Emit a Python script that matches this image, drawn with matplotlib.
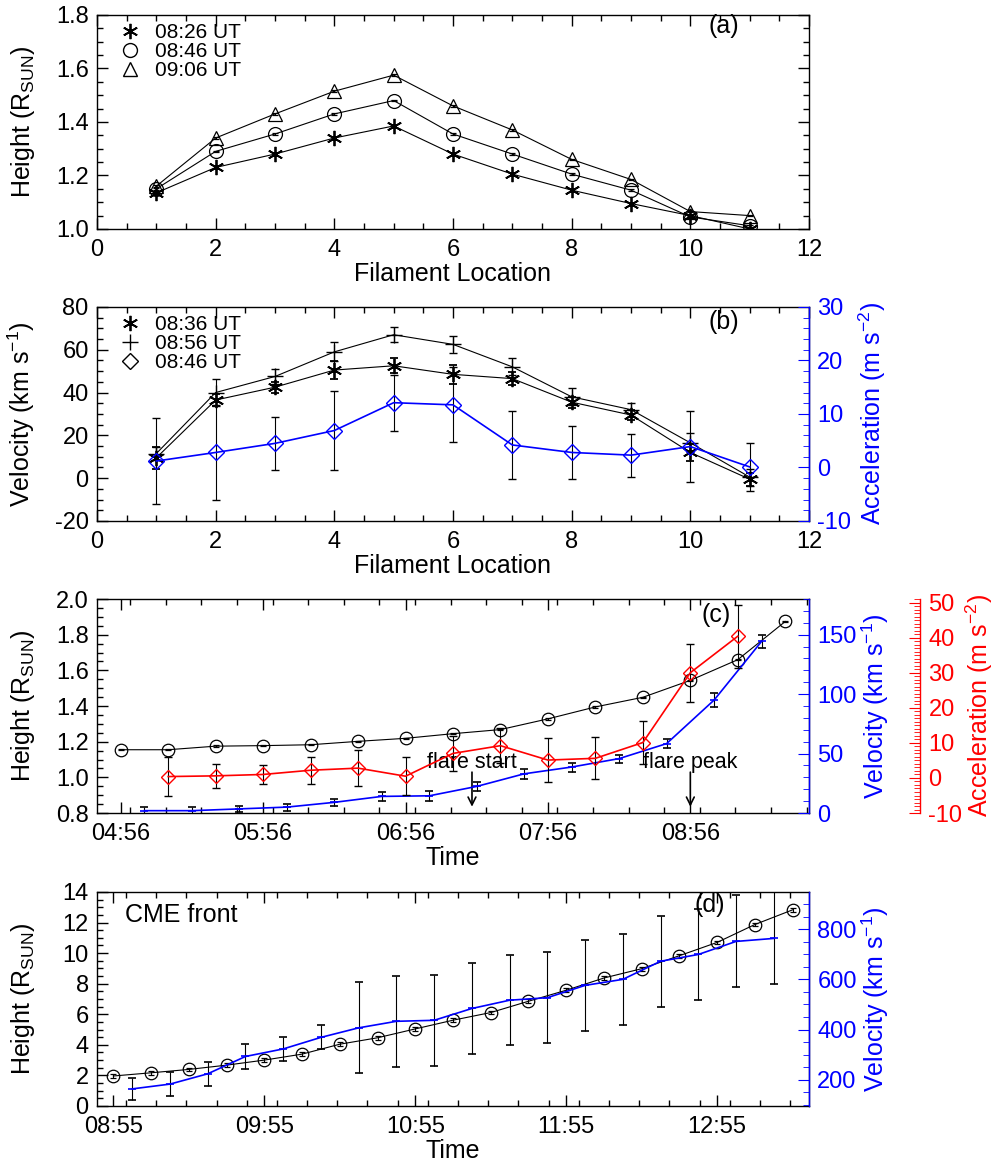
import numpy as np
import matplotlib
matplotlib.use('Agg')
import matplotlib.pyplot as plt
from matplotlib.lines import Line2D
from matplotlib.ticker import MultipleLocator, FuncFormatter

plt.rcParams['font.family'] = ['Liberation Sans', 'DejaVu Sans']
plt.rcParams['mathtext.fontset'] = 'custom'
plt.rcParams['mathtext.rm'] = 'Liberation Sans'
plt.rcParams['mathtext.it'] = 'Liberation Sans:italic'
plt.rcParams['axes.linewidth'] = 1.0
plt.rcParams['axes.unicode_minus'] = False

# ---- (a) filament heights vs location
loc = np.arange(1, 12)
h_0826 = [1.135, 1.23, 1.28, 1.34, 1.385, 1.28, 1.205, 1.145, 1.095, 1.05, 1.0]
h_0846 = [1.15, 1.29, 1.355, 1.43, 1.48, 1.355, 1.28, 1.205, 1.145, 1.045, 1.012]
h_0906 = [1.16, 1.34, 1.43, 1.515, 1.575, 1.46, 1.37, 1.26, 1.185, 1.065, 1.05]

# ---- (b) velocity / acceleration vs location
v_0836 = [9.5, 36.5, 42.5, 50.5, 52.5, 48.5, 46.5, 35.5, 29.5, 12, -0.5]
v_0836_err = [5, 3, 2.5, 4, 3.5, 4.5, 3, 2.5, 2.5, 4, 3]
v_0856 = [11.5, 40, 47.5, 59, 67, 62.5, 52, 38, 32, 16.5, 0.5]
v_0856_err = [3, 6.5, 3.5, 4.5, 3.5, 4, 4, 4, 3, 4.5, 4]
a_0846 = [1.2, 2.8, 4.5, 6.9, 12.1, 11.7, 4.2, 2.8, 2.3, 3.9, 0.1]
a_0846_err = [8, 8.8, 5, 7.4, 5.2, 7, 6.3, 5, 4, 6.6, 4.5]

# ---- (c) filament apex vs time
c_time = ['04:56', '05:16', '05:36', '05:56', '06:16', '06:36', '06:56', '07:16',
          '07:36', '07:56', '08:16', '08:36', '08:56', '09:16', '09:36']
c_height = [1.155, 1.155, 1.175, 1.178, 1.183, 1.202, 1.219, 1.245, 1.268,
            1.328, 1.395, 1.449, 1.544, 1.66, 1.874]
c_acc_time = c_time[1:14]
c_acc = [0.4, 0.6, 1.0, 2.2, 2.8, 0.5, 7.0, 9.2, 5.1, 5.6, 10.1, 30.0, 40.4]
c_acc_err = [5.5, 3.5, 2.8, 3.9, 5.2, 5.4, 5, 5, 6.3, 6, 6.2, 8.3, 9]
c_vel_time = ['05:06', '05:26', '05:46', '06:06', '06:26', '06:46', '07:06',
              '07:26', '07:46', '08:06', '08:26', '08:46', '09:06', '09:26']
c_vel = [2, 2, 3.5, 5, 9, 14, 14.5, 22.4, 33, 38.7, 45.8, 58.4, 95, 144.3]
c_vel_err = [3, 3, 2.5, 3, 3, 4, 4, 4, 4, 3.8, 3.4, 4, 5.6, 5.2]
flare_start = '07:24'
flare_peak = '08:56'

# ---- (d) CME front vs time
d_time = ['08:55', '09:10', '09:25', '09:40', '09:55', '10:10', '10:25', '10:40',
          '10:55', '11:10', '11:25', '11:40', '11:55', '12:10', '12:25', '12:40',
          '12:55', '13:10', '13:25']
d_height = [1.96, 2.17, 2.39, 2.67, 3.0, 3.39, 4.04, 4.46, 5.04, 5.61, 6.11,
            6.85, 7.57, 8.37, 8.98, 9.83, 10.7, 11.87, 12.83]
d_vel_time = ['09:02:30', '09:17:30', '09:32:30', '09:47:30', '10:02:30', '10:17:30',
              '10:32:30', '10:47:30', '11:02:30', '11:17:30', '11:32:30', '11:47:30',
              '12:02:30', '12:17:30', '12:32:30', '12:47:30', '13:02:30', '13:17:30']
d_vel = [164, 183, 224, 293, 323, 369, 407, 433, 437, 484, 517, 527, 576, 600,
         672, 699, 751, 763]
d_vel_err = [44, 47, 47, 48, 47, 48, 181, 181, 181, 180, 180, 180, 182, 181,
             181, 181, 183, 183]


def tmin(s):
    p = [int(x) for x in s.split(':')]
    m = p[0] * 60 + p[1]
    if len(p) == 3:
        m += p[2] / 60.
    return m


def hhmm(v, pos):
    v = int(round(v))
    return '%02d:%02d' % (v // 60, v % 60)


AST = (6, 2, 0)
FS = 17
LAB = 18


def style(ax, top=True, right=True):
    ax.tick_params(which='both', direction='in', top=top, right=right,
                   labelsize=FS)
    ax.tick_params(which='major', length=8, width=1)
    ax.tick_params(which='minor', length=4, width=1)
    ax.tick_params(axis='x', pad=7)
    ax.tick_params(axis='y', pad=6)


def color_axis(ax, col):
    ax.tick_params(axis='y', which='both', direction='in', colors=col,
                   labelsize=FS, pad=6)
    ax.tick_params(axis='y', which='major', length=8)
    ax.tick_params(axis='y', which='minor', length=4)
    ax.spines['right'].set_color(col)
    for s in ['left', 'top', 'bottom']:
        ax.spines[s].set_visible(False)


def legend(ax, handles, labels):
    ax.legend(handles, labels, loc='upper left', bbox_to_anchor=(0.02, 1.0),
              frameon=False, fontsize=15, handlelength=1.0, handletextpad=0.7,
              labelspacing=0.0, borderaxespad=0.2, borderpad=0.2)


fig = plt.figure(figsize=(10, 11.67), dpi=100)
L, W, H = 0.097, 0.712, 0.1834

# ---------------- (a)
ax = fig.add_axes([L, 0.8038, W, H])
ax.plot(loc, h_0826, color='k', lw=0.8, marker=AST, ms=11, mew=1.3)
ax.errorbar(loc, h_0846, yerr=0.003, color='k', lw=0.8, marker='o', ms=10,
            mfc='none', mew=0.9, capsize=2, elinewidth=0.8)
ax.errorbar(loc, h_0906, yerr=0.003, color='k', lw=0.8, marker='^', ms=10,
            mfc='none', mew=0.9, capsize=2, elinewidth=0.8)
ax.set_xlim(0, 12)
ax.set_ylim(1.0, 1.8)
ax.xaxis.set_major_locator(MultipleLocator(2))
ax.xaxis.set_minor_locator(MultipleLocator(0.5))
ax.yaxis.set_major_locator(MultipleLocator(0.2))
ax.yaxis.set_minor_locator(MultipleLocator(0.05))
ax.yaxis.set_major_formatter(FuncFormatter(lambda v, p: '%.1f' % v))
style(ax)
ax.set_xlabel('Filament Location', fontsize=LAB, labelpad=1)
ax.set_ylabel(r'Height (R$_{\rm SUN}$)', fontsize=LAB)
ax.yaxis.set_label_coords(-0.084, 0.5)
hd = [Line2D([], [], color='k', ls='none', marker=AST, ms=11, mew=1.3),
      Line2D([], [], color='k', ls='none', marker='o', ms=10, mfc='none'),
      Line2D([], [], color='k', ls='none', marker='^', ms=10, mfc='none')]
legend(ax, hd, ['08:26 UT', '08:46 UT', '09:06 UT'])
ax.text(0.88, 0.95, '(a)', transform=ax.transAxes, fontsize=LAB,
        ha='center', va='center')

# ---------------- (b)
ax = fig.add_axes([L, 0.5536, W, H])
ax.errorbar(loc, v_0836, yerr=v_0836_err, color='k', lw=0.8, marker=AST,
            ms=11, mew=1.3, capsize=3, elinewidth=0.8)
ax.errorbar(loc, v_0856, yerr=v_0856_err, color='k', lw=0.8, marker='+',
            ms=11, mew=1.0, capsize=3, elinewidth=0.8)
ax.set_xlim(0, 12)
ax.set_ylim(-20, 80)
ax.xaxis.set_major_locator(MultipleLocator(2))
ax.xaxis.set_minor_locator(MultipleLocator(0.5))
ax.yaxis.set_major_locator(MultipleLocator(20))
ax.yaxis.set_minor_locator(MultipleLocator(5))
style(ax, right=False)
ax.set_xlabel('Filament Location', fontsize=LAB, labelpad=1)
ax.set_ylabel(r'Velocity (km s$^{-1}$)', fontsize=LAB)
ax.yaxis.set_label_coords(-0.084, 0.5)
ax2 = ax.twinx()
ax2.errorbar(loc, a_0846, yerr=a_0846_err, color='blue', ecolor='k', lw=1.2,
             marker='D', ms=8, mfc='none', mew=1.0, capsize=3, elinewidth=0.8)
ax2.set_ylim(-10, 30)
ax2.yaxis.set_major_locator(MultipleLocator(10))
ax2.yaxis.set_minor_locator(MultipleLocator(2))
color_axis(ax2, 'blue')
ax2.set_ylabel(r'Acceleration (m s$^{-2}$)', fontsize=LAB, color='blue')
hd = [Line2D([], [], color='k', ls='none', marker=AST, ms=11, mew=1.3),
      Line2D([], [], color='k', ls='none', marker='+', ms=11, mew=1.0),
      Line2D([], [], color='k', ls='none', marker='D', ms=8, mfc='none')]
legend(ax2, hd, ['08:36 UT', '08:56 UT', '08:46 UT'])
ax.text(0.88, 0.93, '(b)', transform=ax.transAxes, fontsize=LAB,
        ha='center', va='center')

# ---------------- (c)
ax = fig.add_axes([L, 0.3033, W, H])
ct = [tmin(t) for t in c_time]
ax.errorbar(ct, c_height, yerr=0.004, color='k', lw=0.8, marker='o', ms=9,
            mfc='none', mew=0.9, capsize=2, elinewidth=0.8)
ax.set_xlim(tmin('04:46'), tmin('09:46'))
ax.set_ylim(0.8, 2.0)
ax.set_xticks([tmin(t) for t in ['04:56', '05:56', '06:56', '07:56', '08:56']])
ax.xaxis.set_minor_locator(MultipleLocator(15))
ax.xaxis.set_major_formatter(FuncFormatter(hhmm))
ax.yaxis.set_major_locator(MultipleLocator(0.2))
ax.yaxis.set_minor_locator(MultipleLocator(0.05))
ax.yaxis.set_major_formatter(FuncFormatter(lambda v, p: '%.1f' % v))
style(ax, right=False)
ax.set_xlabel('Time', fontsize=LAB, labelpad=1)
ax.set_ylabel(r'Height (R$_{\rm SUN}$)', fontsize=LAB)
ax.yaxis.set_label_coords(-0.084, 0.5)
for t, s in [(flare_start, 'flare start'), (flare_peak, 'flare peak')]:
    ax.annotate('', xy=(tmin(t), 0.82), xytext=(tmin(t), 1.045),
                arrowprops=dict(arrowstyle='->', color='k', lw=1.2,
                                mutation_scale=14))
    ax.text(tmin(t), 1.085, s, fontsize=15.5, ha='center', va='center')
ax.text(0.87, 0.925, '(c)', transform=ax.transAxes, fontsize=LAB,
        ha='center', va='center')

axv = ax.twinx()
axv.errorbar([tmin(t) for t in c_vel_time], c_vel, yerr=c_vel_err,
             color='blue', ecolor='k', lw=1.2, marker='_', ms=6, mew=1.2,
             capsize=3, elinewidth=0.8)
axv.set_ylim(0, 180)
axv.yaxis.set_major_locator(MultipleLocator(50))
axv.yaxis.set_minor_locator(MultipleLocator(10))
color_axis(axv, 'blue')
axv.set_ylabel(r'Velocity (km s$^{-1}$)', fontsize=LAB, color='blue',
               labelpad=2)

axa = ax.twinx()
axa.errorbar([tmin(t) for t in c_acc_time], c_acc, yerr=c_acc_err,
             color='red', ecolor='k', lw=1.2, marker='D', ms=7, mfc='none',
             mew=1.0, capsize=3, elinewidth=0.8)
axa.set_ylim(-10, 51)
axa.spines['right'].set_position(('axes', 1.156))
axa.yaxis.set_major_locator(MultipleLocator(10))
axa.yaxis.set_minor_locator(MultipleLocator(1))
color_axis(axa, 'red')
axa.set_ylabel(r'Acceleration (m s$^{-2}$)', fontsize=LAB, color='red',
               labelpad=1)

# ---------------- (d)
ax = fig.add_axes([L, 0.0523, W, H])
ax.errorbar([tmin(t) for t in d_time], d_height, yerr=0.12, color='k', lw=0.8,
            marker='o', ms=9, mfc='none', mew=0.9, capsize=2, elinewidth=0.8)
ax.set_xlim(tmin('08:48:30'), tmin('13:31:30'))
ax.set_ylim(0, 14)
ax.set_xticks([tmin(t) for t in ['08:55', '09:55', '10:55', '11:55', '12:55']])
ax.xaxis.set_minor_locator(MultipleLocator(12))
ax.xaxis.set_major_formatter(FuncFormatter(hhmm))
ax.yaxis.set_major_locator(MultipleLocator(2))
ax.yaxis.set_minor_locator(MultipleLocator(0.5))
style(ax, right=False)
ax.set_xlabel('Time', fontsize=LAB, labelpad=1)
ax.set_ylabel(r'Height (R$_{\rm SUN}$)', fontsize=LAB)
ax.yaxis.set_label_coords(-0.084, 0.5)
ax.text(0.04, 0.89, 'CME front', transform=ax.transAxes, fontsize=LAB,
        ha='left', va='center')
ax.text(0.861, 0.94, '(d)', transform=ax.transAxes, fontsize=LAB,
        ha='center', va='center')
axv = ax.twinx()
axv.errorbar([tmin(t) for t in d_vel_time], d_vel, yerr=d_vel_err,
             color='blue', ecolor='k', lw=1.2, marker='_', ms=6, mew=1.2,
             capsize=3, elinewidth=0.8)
axv.set_ylim(96, 948)
axv.yaxis.set_major_locator(MultipleLocator(200))
axv.yaxis.set_minor_locator(MultipleLocator(50))
color_axis(axv, 'blue')
axv.set_ylabel(r'Velocity (km s$^{-1}$)', fontsize=LAB, color='blue',
               labelpad=2)

fig.savefig('out.png', dpi=100)
